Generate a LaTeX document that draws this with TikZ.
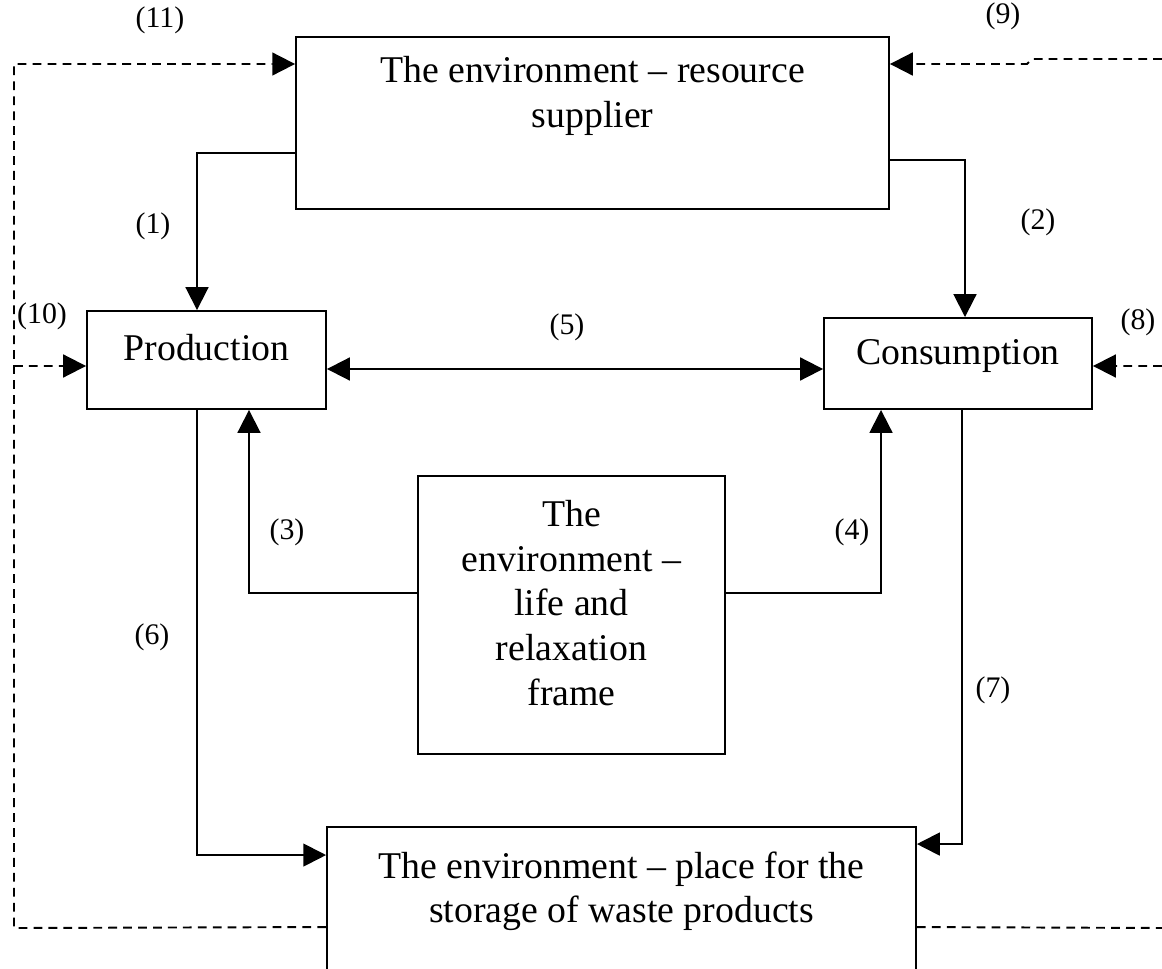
\documentclass[tikz,border=0pt]{standalone}
\usepackage{fontspec}
\setmainfont{Liberation Serif}
\usetikzlibrary{arrows.meta}

\begin{document}
\begin{tikzpicture}[x=0.02cm, y=-0.02cm,
  block/.style={draw, line width=1.1pt, text height=14pt, text depth=13pt,
    font=\fontsize{21.5}{25.5}\selectfont},
  blocktext/.style={inner sep=0pt, align=center, font=\fontsize{21.5}{25.5}\selectfont},
  flow/.style={line width=1.1pt, -{Triangle[length=13pt, width=13pt]}},
  twoway/.style={line width=1.1pt, {Triangle[length=13pt, width=13pt]}-{Triangle[length=13pt, width=13pt]}},
  feed/.style={flow, dash pattern=on 5pt off 3.5pt},
  tag/.style={font=\fontsize{17}{20}\selectfont},
]
\useasboundingbox (0,0) rectangle (1162,969);
\clip (0,0) rectangle (1162,969);

% The four environment roles and the two sectors
\node[block, minimum width=11.86cm, minimum height=3.44cm,
  label={[blocktext, anchor=north, yshift=-0.4cm]north:{The environment -- resource\\supplier}}]
  (supplier) at (592.5,123) {};
\node[block, minimum width=4.78cm, minimum height=1.96cm]
  (prod) at (206.5,360) {Production};
\node[block, minimum width=5.36cm, minimum height=1.82cm]
  (cons) at (958,363.5) {Consumption};
\node[block, minimum width=6.14cm, minimum height=5.56cm,
  label={[blocktext, yshift=0.24cm]center:{The\\environment --\\life and\\relaxation\\frame}}]
  (frame) at (571.5,615) {};
\node[block, minimum width=11.78cm, minimum height=4cm,
  label={[blocktext, anchor=north, yshift=-0.5cm]north:{The environment -- place for the\\storage of waste products}}]
  (waste) at (621.5,927) {};

% Ends of the dashed outer loop
\coordinate (railtop) at (14,64);
\coordinate (railmid) at (14,366);
\coordinate (railbot) at (14,928);
\coordinate (edgetop) at (1162,59);
\coordinate (bend) at (1032,59);
\coordinate (edgemid) at (1162,366);
\coordinate (edgebot) at (1162,928);

% Solid flows
\draw[flow] ([yshift=-0.6cm]supplier.west) -| ([xshift=-0.19cm]prod.north);
\draw[flow] ([yshift=-0.74cm]supplier.east) -| ([xshift=0.14cm]cons.north);
\draw[flow] ([yshift=0.44cm]frame.west) -| ([xshift=0.85cm]prod.south);
\draw[flow] ([yshift=0.44cm]frame.east) -| ([xshift=-1.54cm]cons.south);
\draw[twoway] ([yshift=-0.18cm]prod.east) -- ([yshift=-0.11cm]cons.west);
\draw[flow] ([xshift=-0.19cm]prod.south) |- ([yshift=-0.58cm]waste.north west);
\draw[flow] ([xshift=0.08cm]cons.south) |- ([yshift=-0.36cm]waste.north east);

% Dashed feedback
\draw[feed] ([yshift=-2.02cm]waste.north west) -- (railbot) -- (railtop)
  -- ([yshift=1.18cm]supplier.west);
\draw[feed] (railmid) -- ([yshift=-0.12cm]prod.west);
\draw[feed] (edgetop) -- (bend) -- ++(-5,5) -- ([yshift=1.18cm]supplier.east);
\draw[feed] (edgemid) -- ([yshift=-0.05cm]cons.east);
\draw[feed, -] ([yshift=-2.02cm]waste.north east) -- (edgebot);

% Flow numbers
\node[tag] (n1) at (153,226) {(1)};
\node[tag] (n2) at (1038,222) {(2)};
\node[tag] (n3) at (287,532) {(3)};
\node[tag] (n4) at (852,532) {(4)};
\node[tag] (n5) at (567,327) {(5)};
\node[tag] (n6) at (152,637) {(6)};
\node[tag] (n7) at (993,690) {(7)};
\node[tag] (n8) at (1138,322) {(8)};
\node[tag] (n9) at (1003,16) {(9)};
\node[tag] (n10) at (42,316) {(10)};
\node[tag] (n11) at (160,20) {(11)};
\end{tikzpicture}
\end{document}
